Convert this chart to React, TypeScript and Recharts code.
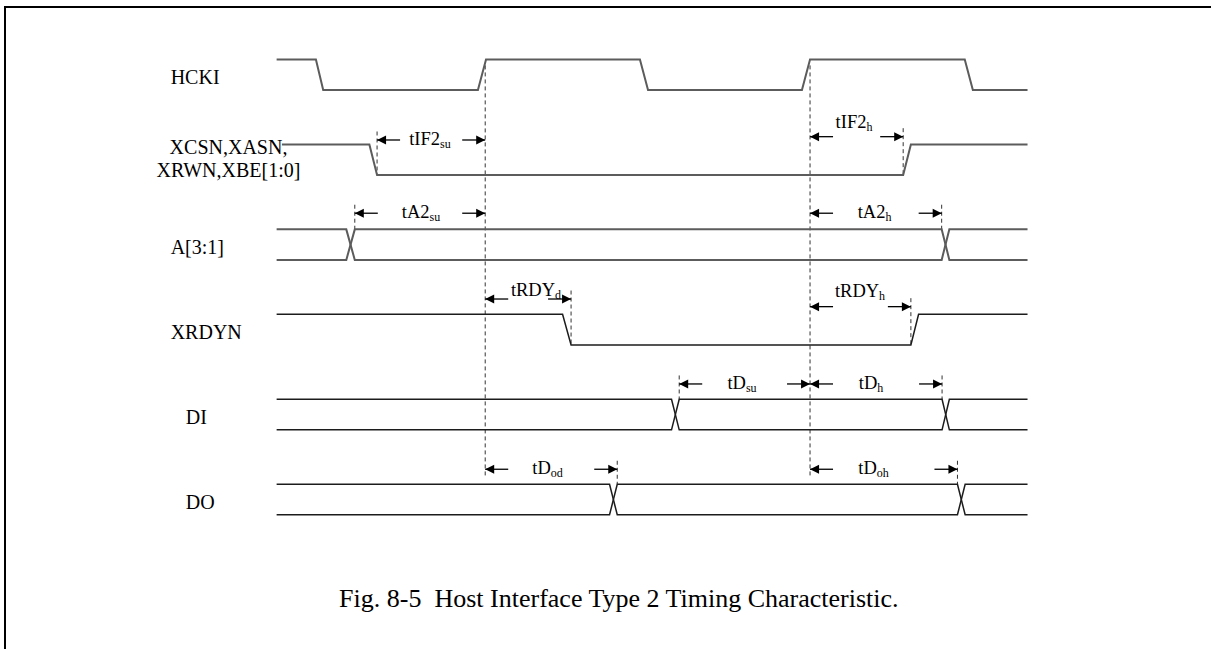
import React from "react";
import { ComposedChart, XAxis, YAxis, Line, Scatter, ReferenceLine } from "recharts";

// time axis in ns (clock period 40 ns), rows counted downward: 0 = HCKI ... 5 = DO
const T_END = 92.85;
const LOW = 0.36; // low level / lower bus line, offset from the row's high level
const ARROW_LEN = 2.84; // arrow length in ns

const signalNames = ["HCKI", "XCSN,XASN,|XRWN,XBE[1:0]", "A[3:1]", "XRDYN", "DI", "DO"];
const signalIsBus = [false, false, true, false, true, true];
const signalStart = [0.15, 0.8, 0.15, 0.15, 0.15, 0.15];
const signalLabelT = [-12.93, -5.79, -12.93, -12.93, -11.07, -11.07];

// [start, end] of each transition
const hckiEdges = [[5, 5.9], [25, 26], [45, 46], [65, 66], [85.1, 86.1]];
const xcsnEdges = [[11.6, 12.55], [77.5, 78.45]];
const aEdges = [[8.75, 9.8], [82.25, 83.2]];
const xrdynEdges = [[35.45, 36.5], [78.45, 79.4]];
const diEdges = [[48.9, 49.85], [82.3, 83.2]];
const doEdges = [[41.25, 42.2], [84.2, 85.15]];
const signalEdges = [hckiEdges, xcsnEdges, aEdges, xrdynEdges, diEdges, doEdges];

// reference clock edges (long dashed lines)
const refEdges = [25.9, 66];

// timing parameters
const annNames = ["tIF2", "tIF2", "tA2", "tA2", "tRDY", "tRDY", "tD", "tD", "tD", "tD"];
const annSubs = ["su", "h", "su", "h", "d", "h", "su", "h", "od", "oh"];
const annFrom = [12.55, 66, 9.8, 66, 25.9, 66, 49.85, 66, 25.9, 66];
const annTo = [25.9, 77.5, 25.9, 82.25, 36.5, 78.45, 66, 82.3, 42.2, 84.2];
const annRow = [1, 1, 2, 2, 3, 3, 4, 4, 5, 5];
const annArrowV = [0.948, 0.909, 1.81, 1.81, 2.82, 2.91, 3.82, 3.82, 4.824, 4.824];
const annTextV = [1.006, 0.81, 1.87, 1.87, 2.78, 2.8, 3.88, 3.88, 4.88, 4.88];
const annLabelT = [19.07, 71.43, 17.98, 73.96, 32.17, 72.17, 57.6, 73.53, 33.6, 73.84];

const caption = "Fig. 8-5  Host Interface Type 2 Timing Characteristic.";
const captionT = 42.4;
const captionV = 6.441;

const FONT = '"Liberation Serif", "Times New Roman", serif';
const CHART_W = 1300; // wider than the picture: the right part is cut off like in the scan
const PX_PER_NS = 1211 / 149.5;

function wire(row: number, start: number, edges: number[][], startHigh: boolean) {
  let hi = startHigh;
  const lvl = (h: boolean) => row + (h ? 0 : LOW);
  const pts = [{ t: start, v: lvl(hi) }];
  edges.forEach(([a, b]) => {
    pts.push({ t: a, v: lvl(hi) });
    hi = !hi;
    pts.push({ t: b, v: lvl(hi) });
  });
  pts.push({ t: T_END, v: lvl(hi) });
  return pts;
}

const wires: { key: string; row: number; data: { t: number; v: number }[] }[] = [];
signalNames.forEach((_, r) => {
  wires.push({ key: `w${r}a`, row: r, data: wire(r, signalStart[r], signalEdges[r], true) });
  if (signalIsBus[r]) {
    wires.push({ key: `w${r}b`, row: r, data: wire(r, signalStart[r], signalEdges[r], false) });
  }
});

const labelPoints = signalNames.map((name, r) => ({
  t: signalLabelT[r],
  v: r,
  lines: name.split("|"),
}));

const arrowHeads = annFrom.flatMap((f, i) => [
  { t: f, v: annArrowV[i], dir: "l" },
  { t: annTo[i], v: annArrowV[i], dir: "r" },
]);

const annTexts = annNames.map((n, i) => ({ t: annLabelT[i], v: annTextV[i], name: n, sub: annSubs[i] }));

const strokeFor = (row: number) => (row < 3 ? "#5c5c5c" : "#1c1c1c");
const widthFor = (row: number) => (row < 3 ? 2 : 1.5);

const SignalLabel = (p: any) => {
  const { cx, cy, payload } = p;
  if (payload.lines.length === 1) {
    return (
      <text x={cx} y={cy + 25} fontFamily={FONT} fontSize={20} fill="#000" textAnchor="start">
        {payload.lines[0]}
      </text>
    );
  }
  return (
    <text fontFamily={FONT} fontSize={20} fill="#000" textAnchor="middle">
      <tspan x={cx} y={cy + 9.3}>{payload.lines[0]}</tspan>
      <tspan x={cx} y={cy + 33}>{payload.lines[1]}</tspan>
    </text>
  );
};

const ArrowHead = (p: any) => {
  const { cx, cy, payload } = p;
  const s = payload.dir === "l" ? 1 : -1;
  return (
    <polygon
      points={`${cx},${cy} ${cx + s * 9},${cy - 4.5} ${cx + s * 9},${cy + 4.5}`}
      fill="#000"
    />
  );
};

const AnnText = (p: any) => {
  const { cx, cy, payload } = p;
  return (
    <text x={cx} y={cy} fontFamily={FONT} fontSize={18.5} fill="#000" textAnchor="middle">
      {payload.name}
      <tspan fontSize={12} dy={3}>{payload.sub}</tspan>
    </text>
  );
};

const CaptionText = (p: any) => (
  <text
    x={p.cx}
    y={p.cy}
    fontFamily={FONT}
    fontSize={26}
    fill="#000"
    textAnchor="middle"
    xmlSpace="preserve"
    style={{ whiteSpace: "pre" }}
  >
    {caption}
  </text>
);

export default function App() {
  return (
    <div
      style={{
        position: "absolute",
        left: 0,
        top: 0,
        width: 1211,
        height: 649,
        overflow: "hidden",
        background: "#fff",
      }}
    >
      {/* figure frame: only its top and left edges are inside the picture */}
      <div style={{ position: "absolute", left: 4, top: 6, width: 1207, height: 2, background: "#000" }} />
      <div style={{ position: "absolute", left: 4, top: 6, width: 2, height: 643, background: "#000" }} />
      <div style={{ position: "absolute", left: 0, top: 0 }}>
        <ComposedChart width={CHART_W} height={649} margin={{ top: 0, right: 0, bottom: 0, left: 0 }}>
          <XAxis
            type="number"
            dataKey="t"
            domain={[-34, -34 + CHART_W / PX_PER_NS]}
            hide
            allowDataOverflow
          />
          <YAxis type="number" dataKey="v" domain={[-0.7, 6.94]} reversed hide allowDataOverflow />

          {refEdges.map((t) => (
            <ReferenceLine
              key={`ref${t}`}
              segment={[{ x: t, y: 0.07 }, { x: t, y: 4.915 }]}
              stroke="#333"
              strokeWidth={1}
              strokeDasharray="4 3"
            />
          ))}

          {annFrom.map((f, i) => {
            const markT = refEdges.includes(f) ? annTo[i] : f;
            const r = annRow[i];
            const bottom = signalIsBus[r] ? r : r + LOW;
            return (
              <ReferenceLine
                key={`mark${i}`}
                segment={[{ x: markT, y: annArrowV[i] - 0.1 }, { x: markT, y: bottom }]}
                stroke="#333"
                strokeWidth={1}
                strokeDasharray="4 3"
              />
            );
          })}

          {annFrom.map((f, i) => (
            <ReferenceLine
              key={`sl${i}`}
              segment={[{ x: f, y: annArrowV[i] }, { x: f + ARROW_LEN, y: annArrowV[i] }]}
              stroke="#000"
              strokeWidth={1.3}
            />
          ))}
          {annTo.map((t, i) => (
            <ReferenceLine
              key={`sr${i}`}
              segment={[{ x: t - ARROW_LEN, y: annArrowV[i] }, { x: t, y: annArrowV[i] }]}
              stroke="#000"
              strokeWidth={1.3}
            />
          ))}

          {wires.map((w) => (
            <Line
              key={w.key}
              data={w.data}
              dataKey="v"
              type="linear"
              dot={false}
              activeDot={false}
              stroke={strokeFor(w.row)}
              strokeWidth={widthFor(w.row)}
              isAnimationActive={false}
            />
          ))}

          <Scatter data={arrowHeads} shape={ArrowHead} isAnimationActive={false} />
          <Scatter data={annTexts} shape={AnnText} isAnimationActive={false} />
          <Scatter data={labelPoints} shape={SignalLabel} isAnimationActive={false} />
          <Scatter data={[{ t: captionT, v: captionV }]} shape={CaptionText} isAnimationActive={false} />
        </ComposedChart>
      </div>
    </div>
  );
}
